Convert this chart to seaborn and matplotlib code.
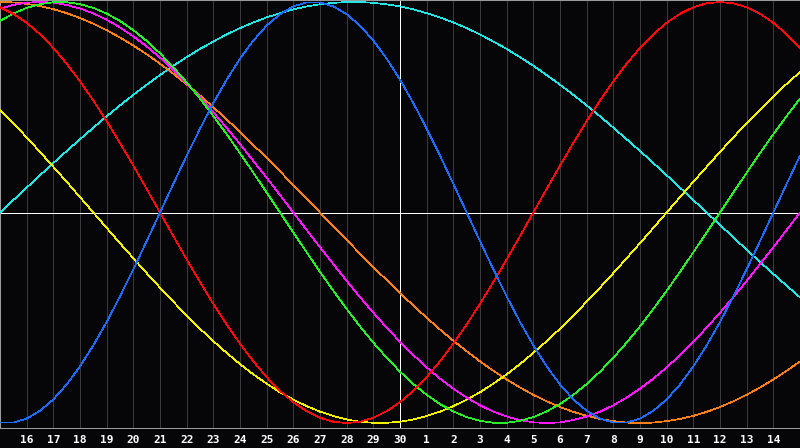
import numpy as np
import pandas as pd
import matplotlib
matplotlib.use("Agg")
import matplotlib.pyplot as plt
import seaborn as sns

# Day labels across the chart (first and last sit on the plot edges)
days = ["15", "16", "17", "18", "19", "20", "21", "22", "23", "24", "25", "26", "27", "28",
        "29", "30", "1", "2", "3", "4", "5", "6", "7", "8", "9", "10", "11", "12", "13",
        "14", "15"]
today = "30"

# Cycle values read every half day, from day 15 to the next 15
blue = [-0.998, -0.998, -0.979, -0.942, -0.888, -0.817, -0.731, -0.631, -0.520, -0.398,
        -0.270, -0.136, 0.000, 0.136, 0.270, 0.398, 0.520, 0.631, 0.731, 0.817, 0.888,
        0.942, 0.979, 0.998, 0.998, 0.979, 0.942, 0.888, 0.817, 0.731, 0.631, 0.520,
        0.398, 0.270, 0.136, 0.000, -0.136, -0.270, -0.398, -0.520, -0.631, -0.731,
        -0.817, -0.888, -0.942, -0.979, -0.998, -0.998, -0.979, -0.942, -0.888, -0.817,
        -0.731, -0.631, -0.520, -0.398, -0.270, -0.136, 0.000, 0.136, 0.270]
red = [0.975, 0.944, 0.901, 0.847, 0.782, 0.707, 0.623, 0.532, 0.434, 0.330, 0.223, 0.112,
       0.000, -0.112, -0.223, -0.330, -0.434, -0.532, -0.623, -0.707, -0.782, -0.847,
       -0.901, -0.944, -0.975, -0.994, -1.000, -0.994, -0.975, -0.944, -0.901, -0.847,
       -0.782, -0.707, -0.623, -0.532, -0.434, -0.330, -0.223, -0.112, 0.000, 0.112, 0.223,
       0.330, 0.434, 0.532, 0.623, 0.707, 0.782, 0.847, 0.901, 0.944, 0.975, 0.994, 1.000,
       0.994, 0.975, 0.944, 0.901, 0.847, 0.782]
green = [0.910, 0.945, 0.972, 0.990, 0.999, 0.999, 0.990, 0.972, 0.945, 0.910, 0.866, 0.815,
         0.756, 0.690, 0.618, 0.541, 0.458, 0.372, 0.282, 0.189, 0.095, 0.000, -0.095,
         -0.189, -0.282, -0.372, -0.458, -0.541, -0.618, -0.690, -0.756, -0.815, -0.866,
         -0.910, -0.945, -0.972, -0.990, -0.999, -0.999, -0.990, -0.972, -0.945, -0.910,
         -0.866, -0.815, -0.756, -0.690, -0.618, -0.541, -0.458, -0.372, -0.282, -0.189,
         -0.095, 0.000, 0.095, 0.189, 0.282, 0.372, 0.458, 0.541]
magenta = [0.969, 0.986, 0.997, 1.000, 0.997, 0.986, 0.969, 0.946, 0.916, 0.879, 0.837, 0.789,
           0.736, 0.677, 0.614, 0.547, 0.476, 0.402, 0.325, 0.245, 0.165, 0.083, 0.000,
           -0.083, -0.165, -0.245, -0.325, -0.402, -0.476, -0.547, -0.614, -0.677, -0.736,
           -0.789, -0.837, -0.879, -0.916, -0.946, -0.969, -0.986, -0.997, -1.000, -0.997,
           -0.986, -0.969, -0.946, -0.916, -0.879, -0.837, -0.789, -0.736, -0.677, -0.614,
           -0.547, -0.476, -0.402, -0.325, -0.245, -0.165, -0.083, 0.000]
yellow = [0.489, 0.424, 0.357, 0.288, 0.217, 0.146, 0.073, 0.000, -0.073, -0.146, -0.217,
          -0.288, -0.357, -0.424, -0.489, -0.552, -0.611, -0.667, -0.720, -0.769, -0.813,
          -0.854, -0.889, -0.920, -0.946, -0.967, -0.983, -0.994, -0.999, -0.999, -0.994,
          -0.983, -0.967, -0.946, -0.920, -0.889, -0.854, -0.813, -0.769, -0.720, -0.667,
          -0.611, -0.552, -0.489, -0.424, -0.357, -0.288, -0.217, -0.146, -0.073, 0.000,
          0.073, 0.146, 0.217, 0.288, 0.357, 0.424, 0.489, 0.552, 0.611, 0.667]
orange = [1.000, 0.998, 0.991, 0.981, 0.966, 0.947, 0.924, 0.897, 0.866, 0.831, 0.793, 0.752,
          0.707, 0.659, 0.609, 0.556, 0.500, 0.442, 0.383, 0.321, 0.259, 0.195, 0.131, 0.065,
          0.000, -0.065, -0.131, -0.195, -0.259, -0.321, -0.383, -0.442, -0.500, -0.556,
          -0.609, -0.659, -0.707, -0.752, -0.793, -0.831, -0.866, -0.897, -0.924, -0.947,
          -0.966, -0.981, -0.991, -0.998, -1.000, -0.998, -0.991, -0.981, -0.966, -0.947,
          -0.924, -0.897, -0.866, -0.831, -0.793, -0.752, -0.707]
cyan = [0.000, 0.059, 0.118, 0.177, 0.235, 0.292, 0.348, 0.403, 0.457, 0.509, 0.559, 0.607,
        0.653, 0.697, 0.738, 0.777, 0.812, 0.846, 0.876, 0.903, 0.927, 0.947, 0.965, 0.979,
        0.989, 0.996, 1.000, 1.000, 0.996, 0.989, 0.979, 0.965, 0.947, 0.927, 0.903, 0.876,
        0.846, 0.812, 0.777, 0.738, 0.697, 0.653, 0.607, 0.559, 0.509, 0.457, 0.403, 0.348,
        0.292, 0.235, 0.177, 0.118, 0.059, 0.000, -0.059, -0.118, -0.177, -0.235, -0.292,
        -0.348, -0.403]

series = {"cyan": cyan, "orange": orange, "yellow": yellow, "magenta": magenta,
          "green": green, "red": red, "blue": blue}
palette = {"cyan": "#22e6e6", "orange": "#ff8018", "yellow": "#f2f200", "magenta": "#ff18ff",
           "green": "#28f028", "red": "#ff0a0a", "blue": "#1c6cff"}

pos = np.arange(len(days))
frames = [pd.DataFrame({"day": np.arange(len(vals)) / 2.0, "value": vals, "cycle": name})
          for name, vals in series.items()]
df = pd.concat(frames, ignore_index=True)

BG = "#060609"
sns.set_style("dark")
fig = plt.figure(figsize=(8, 4.48), dpi=100, facecolor=BG)
ax = fig.add_axes([0.0, 0.0446, 1.0, 0.9554])
ax.set_facecolor(BG)

# day grid, today marker and zero line
for p in pos[1:-1]:
    ax.axvline(p, color="#3a3a3a", lw=0.5, antialiased=False, zorder=1)
ax.axvline(days.index(today), color="white", lw=0.5, antialiased=False, zorder=2)
ax.axhline(0, color="white", lw=0.5, antialiased=False, zorder=2)

sns.lineplot(data=df, x="day", y="value", hue="cycle", palette=palette, ax=ax,
             legend=False, lw=0.5, antialiased=False, sort=False, estimator=None, zorder=3)

ax.set_xlim(pos[0], pos[-1])
ax.set_ylim(-1.0238, 1.0095)
ax.set_xticks(pos[1:-1])
ax.set_xticklabels(days[1:-1], family="DejaVu Sans Mono", fontweight="bold",
                   fontsize=8, color="white")
ax.tick_params(axis="x", length=0, pad=5)
ax.set_yticks([])
ax.set_xlabel("")
ax.set_ylabel("")
ax.grid(False)
for side in ["left", "top", "bottom"]:
    ax.spines[side].set_visible(True)
    ax.spines[side].set_color("#9a9a9a")
    ax.spines[side].set_linewidth(0.75)
ax.spines["right"].set_visible(False)

fig.savefig("out.png", dpi=100, facecolor=BG)
